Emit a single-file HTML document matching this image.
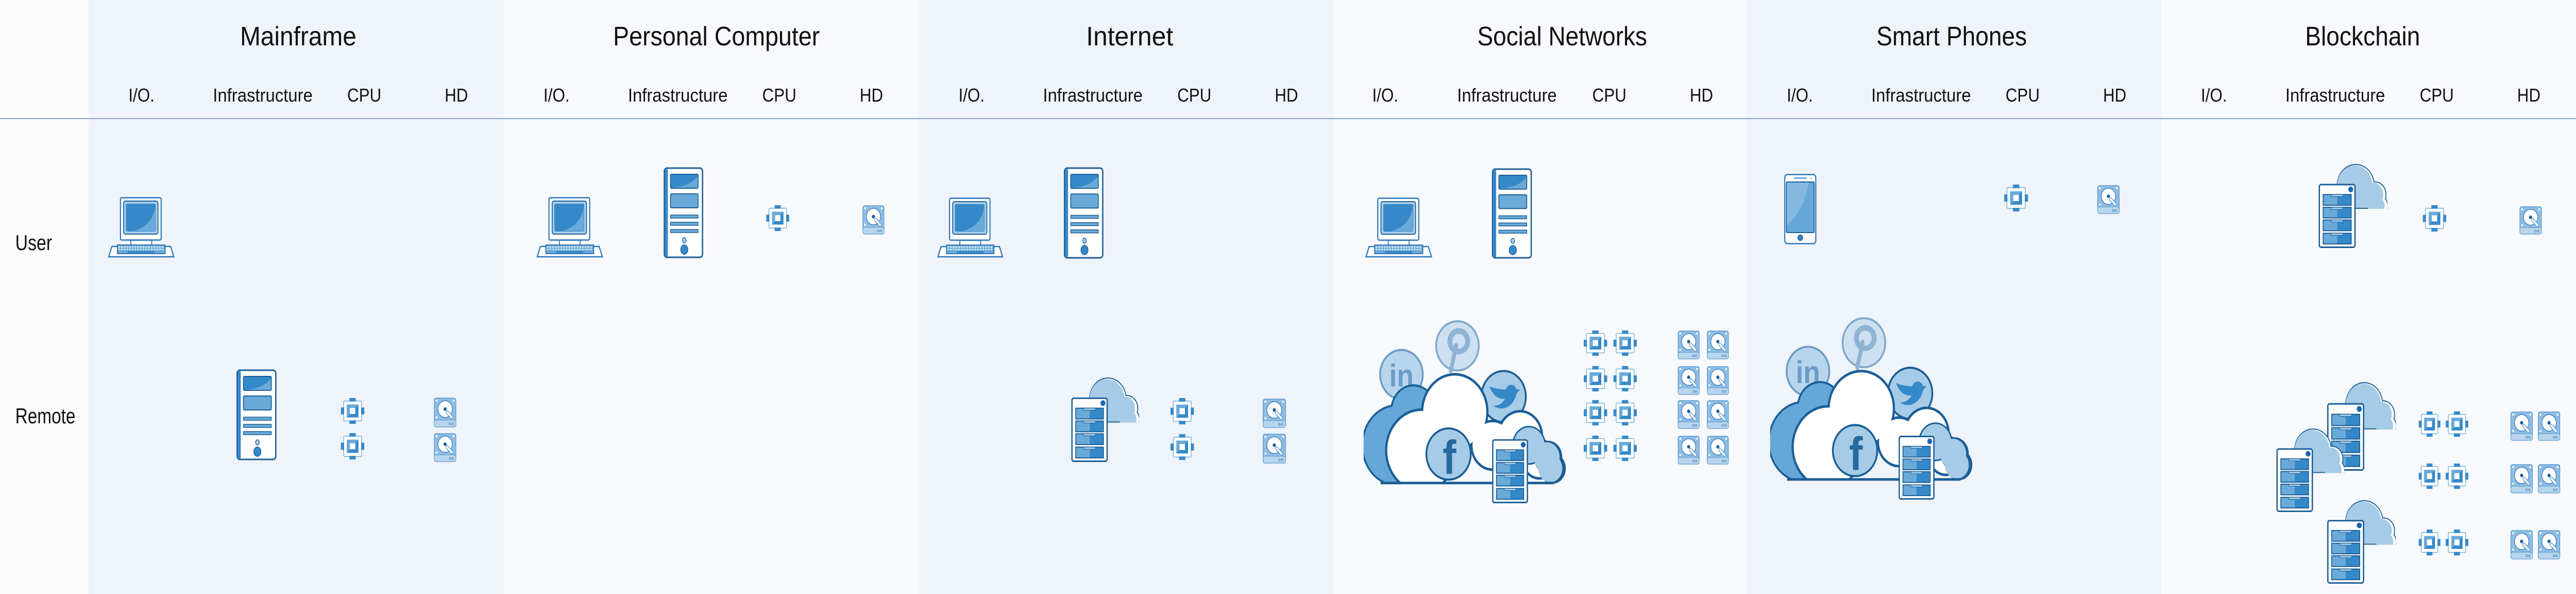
<!DOCTYPE html>
<html><head><meta charset="utf-8"><style>
html,body{margin:0;padding:0;background:#fcfcfd;width:100%;height:100%;overflow:hidden;}
svg{display:block;position:absolute;left:0;top:0;width:100vw;height:100vh;}
text{font-family:"Liberation Sans",sans-serif;fill:#111;}
</style></head><body>
<svg viewBox="0 0 5735 1152" preserveAspectRatio="none" xmlns="http://www.w3.org/2000/svg" xmlns:xlink="http://www.w3.org/1999/xlink" overflow="hidden">
<defs>
<symbol id="pc" viewBox="0 0 150 118" preserveAspectRatio="none">
<rect x="29" y="1.5" width="90" height="82" rx="3" fill="#fff" stroke="#2a76b8" stroke-width="2.5"/>
<rect x="36" y="8" width="76" height="64" rx="4" fill="#a8cde8" stroke="#1b5e96" stroke-width="2"/>
<rect x="41" y="13" width="66" height="54" rx="3" fill="#3589c9"/>
<path d="M106 18 Q100 56 58 66 L106 66Z" fill="#6aaad9"/>
<rect x="52" y="84" width="46" height="10" fill="#fff" stroke="#2a76b8" stroke-width="2"/>
<path d="M3 116 L10 96 L140 96 L147 116Z" fill="#fff" stroke="#2a76b8" stroke-width="2.5"/>
<rect x="22" y="93" width="106" height="17" fill="#6aaad9" stroke="#1b5e96" stroke-width="1.5"/>
<line x1="24" y1="97" x2="126" y2="97" stroke="#fff" stroke-width="2" stroke-dasharray="4 2"/>
<line x1="24" y1="101.5" x2="126" y2="101.5" stroke="#fff" stroke-width="2" stroke-dasharray="4 2"/>
<rect x="45" y="105" width="60" height="4" fill="#3589c9"/>
</symbol>
<symbol id="tower" viewBox="0 0 90 177" preserveAspectRatio="none">
<rect x="2" y="2" width="86" height="173" rx="6" fill="#fff" stroke="#1b5e96" stroke-width="3"/>
<rect x="3" y="3" width="7" height="171" rx="3" fill="#3589c9"/>
<rect x="16" y="14" width="62" height="27" rx="2" fill="#3589c9" stroke="#1b5e96" stroke-width="2"/>
<path d="M77 18 Q60 38 18 40 L77 40Z" fill="#6aaad9"/>
<rect x="16" y="52" width="62" height="27" rx="2" fill="#6aaad9" stroke="#1b5e96" stroke-width="2"/>
<rect x="16" y="93" width="62" height="6" fill="#6aaad9" stroke="#1b5e96" stroke-width="1.5"/>
<rect x="16" y="107" width="62" height="6" fill="#6aaad9" stroke="#1b5e96" stroke-width="1.5"/>
<rect x="16" y="121" width="62" height="6" fill="#6aaad9" stroke="#1b5e96" stroke-width="1.5"/>
<ellipse cx="47" cy="142" rx="4" ry="5" fill="#a8cde8" stroke="#1b5e96" stroke-width="1.5"/>
<ellipse cx="47" cy="160" rx="8" ry="9" fill="#3589c9" stroke="#1b5e96" stroke-width="1.5"/>
</symbol>
<symbol id="cpu" viewBox="0 0 56 56" preserveAspectRatio="none">
<rect x="8" y="8" width="40" height="40" rx="2" fill="#fff" stroke="#6aaad9" stroke-width="1.5"/>
<rect x="15" y="15" width="26" height="26" fill="#3589c9"/>
<path d="M15 15 L41 15 L15 41Z" fill="#6aaad9"/>
<rect x="22" y="22" width="12" height="12" fill="#fff"/>
<rect x="21" y="2" width="14" height="7" fill="#3589c9"/>
<rect x="21" y="47" width="14" height="7" fill="#3589c9"/>
<rect x="2" y="21" width="7" height="14" fill="#3589c9"/>
<rect x="47" y="21" width="7" height="14" fill="#3589c9"/>
</symbol>
<symbol id="hd" viewBox="0 0 50 57" preserveAspectRatio="none">
<rect x="1" y="1" width="48" height="55" rx="4" fill="#8fbde3" stroke="#5b9bd0" stroke-width="1.5"/>
<rect x="1" y="43" width="48" height="13" rx="4" fill="#b8d5ec" stroke="#5b9bd0" stroke-width="1"/>
<circle cx="25" cy="22" r="16" fill="#fff" stroke="#3a7fc0" stroke-width="1.5"/>
<circle cx="25" cy="22" r="3.5" fill="#1b5e96"/>
<path d="M30 28 L40 38" stroke="#5b9bd0" stroke-width="7" stroke-linecap="round"/>
<path d="M30 28 L40 38" stroke="#fff" stroke-width="4" stroke-linecap="round"/>
<circle cx="6" cy="6" r="2" fill="#fff"/><circle cx="44" cy="6" r="2" fill="#fff"/><circle cx="6" cy="38" r="2" fill="#fff"/>
<circle cx="36" cy="50" r="2" fill="none" stroke="#3a7fc0"/><circle cx="42" cy="50" r="2" fill="none" stroke="#3a7fc0"/>
</symbol>
<symbol id="srv" viewBox="0 0 82 126" preserveAspectRatio="none">
<rect x="1.5" y="1.5" width="79" height="123" rx="4" fill="#fff" stroke="#1b5e96" stroke-width="3"/>
<circle cx="71" cy="11" r="5.5" fill="#1565b0"/>
<g stroke="#1b5e96" stroke-width="2">
<rect x="10" y="21" width="31" height="21" fill="#6aaad9" stroke="none"/><rect x="41" y="21" width="31" height="21" fill="#3589c9" stroke="none"/><rect x="10" y="21" width="62" height="21" fill="none"/><rect x="28" y="21" width="26" height="4" fill="#a8cde8" stroke-width="1"/>
<rect x="10" y="46" width="31" height="21" fill="#6aaad9" stroke="none"/><rect x="41" y="46" width="31" height="21" fill="#3589c9" stroke="none"/><rect x="10" y="46" width="62" height="21" fill="none"/><rect x="28" y="46" width="26" height="4" fill="#a8cde8" stroke-width="1"/>
<rect x="10" y="71" width="31" height="21" fill="#6aaad9" stroke="none"/><rect x="41" y="71" width="31" height="21" fill="#3589c9" stroke="none"/><rect x="10" y="71" width="62" height="21" fill="none"/><rect x="28" y="71" width="26" height="4" fill="#a8cde8" stroke-width="1"/>
<rect x="10" y="97" width="31" height="21" fill="#6aaad9" stroke="none"/><rect x="41" y="97" width="31" height="21" fill="#3589c9" stroke="none"/><rect x="10" y="97" width="62" height="21" fill="none"/><rect x="28" y="97" width="26" height="4" fill="#a8cde8" stroke-width="1"/>
</g>
</symbol>
<clipPath id="cc1"><rect x="0" y="-5" width="160" height="93"/></clipPath>
<symbol id="csrv" viewBox="0 0 152 166" preserveAspectRatio="none">
<g clip-path="url(#cc1)">
<g fill="#1b5e96"><circle cx="82" cy="42" r="42"/><circle cx="124" cy="60" r="26"/><circle cx="132" cy="82" r="22"/><rect x="38" y="48" width="100" height="42"/></g>
<g fill="#fff"><circle cx="82" cy="42" r="40"/><circle cx="124" cy="60" r="24"/><circle cx="132" cy="82" r="20"/><rect x="40" y="48" width="96" height="38"/></g>
<g fill="#a6cbe6"><circle cx="80" cy="42" r="39"/><circle cx="120" cy="60" r="23"/><circle cx="127" cy="82" r="19"/><rect x="40" y="48" width="92" height="38"/></g>
</g>
<use href="#srv" x="0" y="39" width="82" height="126"/>
</symbol>
<clipPath id="cc2"><rect x="-10" y="0" width="480" height="320"/></clipPath>
<symbol id="social" viewBox="0 0 460 360" preserveAspectRatio="none">
<circle cx="211" cy="51" r="48" fill="#cde0f1" stroke="#7fa9cc" stroke-width="4"/>
<circle cx="214" cy="42" r="20" fill="none" stroke="#8fb3d3" stroke-width="11"/>
<path d="M208 50 L196 100" stroke="#8fb3d3" stroke-width="9" stroke-linecap="round"/>
<circle cx="85" cy="107" r="48" fill="#b8d5ec" stroke="#6a9cc8" stroke-width="4"/>
<text x="85" y="130" text-anchor="middle" font-size="62" font-weight="bold" style="fill:#6a9cc8">in</text>
<g clip-path="url(#cc2)">
<g fill="#1b5e96"><circle cx="75" cy="245" r="80"/><circle cx="112" cy="178" r="52"/></g>
<g fill="#65a8d8"><circle cx="75" cy="245" r="76"/><circle cx="112" cy="178" r="48"/></g>
</g>
<circle cx="315" cy="150" r="50" fill="#a6cbe6" stroke="#1b5e96" stroke-width="4"/>
<path d="M283 130 C292 150 305 156 318 154 C314 162 304 168 292 168 C312 180 338 170 344 144 L352 136 L344 136 C340 124 324 124 320 136 C306 136 294 134 283 130Z" fill="#3589c9"/>
<g clip-path="url(#cc2)">
<g fill="#1b5e96"><circle cx="130" cy="255" r="82"/><circle cx="205" cy="180" r="76"/><circle cx="290" cy="245" r="50"/><circle cx="352" cy="228" r="52"/><circle cx="395" cy="272" r="40"/></g>
<g fill="#fff"><circle cx="130" cy="255" r="77"/><circle cx="205" cy="180" r="71"/><circle cx="290" cy="245" r="45"/><circle cx="352" cy="228" r="47"/><circle cx="395" cy="272" r="35"/></g>
<g fill="#1b5e96"><circle cx="372" cy="245" r="38"/><circle cx="415" cy="268" r="32"/><circle cx="425" cy="290" r="30"/></g>
<g fill="#a6cbe6"><circle cx="372" cy="245" r="35"/><circle cx="412" cy="268" r="29"/><circle cx="420" cy="290" r="27"/></g>
</g>
<rect x="38" y="316" width="390" height="5" fill="#1b5e96"/>
<circle cx="191" cy="262" r="50" fill="#a6cbe6" stroke="#1b5e96" stroke-width="4"/>
<text x="193" y="300" text-anchor="middle" font-size="92" font-weight="bold" style="fill:#256a9e">f</text>
<use href="#srv" x="289" y="233" width="81" height="125"/>
</symbol>
<symbol id="phone" viewBox="0 0 72 137" preserveAspectRatio="none">
<rect x="1.5" y="1.5" width="69" height="134" rx="6" fill="#fff" stroke="#2a76b8" stroke-width="2.5"/>
<rect x="5" y="16" width="62" height="98" rx="2" fill="#65a8d8" stroke="#1b5e96" stroke-width="2"/>
<path d="M6 17 L55 17 Q45 70 6 100Z" fill="#85b8e0"/>
<rect x="22" y="7" width="28" height="3" fill="#6aaad9"/>
<circle cx="60" cy="8.5" r="1.5" fill="#6aaad9"/>
<circle cx="36" cy="124" r="5.5" fill="#3a7fc0" stroke="#1b5e96" stroke-width="1.5"/>
</symbol>
</defs>

<rect x="0" y="0" width="5735" height="1152" fill="#fcfcfd"/>
<rect x="197" y="0" width="924" height="1152" fill="#eff3fa"/>
<rect x="1121" y="0" width="924" height="1152" fill="#f7f9fd"/>
<rect x="2045" y="0" width="923" height="1152" fill="#eff3fa"/>
<rect x="2968" y="0" width="921" height="1152" fill="#f7f9fd"/>
<rect x="3889" y="0" width="922" height="1152" fill="#eff3fa"/>
<rect x="4811" y="0" width="924" height="1152" fill="#f7f9fd"/>
<rect x="0" y="229" width="5735" height="2" fill="#8aa4d6"/>

<g font-size="52" text-anchor="middle">
<text x="664" y="88" textLength="259" lengthAdjust="spacingAndGlyphs">Mainframe</text>
<text x="1595" y="88" textLength="460" lengthAdjust="spacingAndGlyphs">Personal Computer</text>
<text x="2515" y="88" textLength="194" lengthAdjust="spacingAndGlyphs">Internet</text>
<text x="3478" y="88" textLength="378" lengthAdjust="spacingAndGlyphs">Social Networks</text>
<text x="4345" y="88" textLength="335" lengthAdjust="spacingAndGlyphs">Smart Phones</text>
<text x="5260" y="88" textLength="256" lengthAdjust="spacingAndGlyphs">Blockchain</text>
</g>
<g font-size="36" text-anchor="middle">
<text x="315" y="197">I/O.</text><text x="585" y="197" textLength="222" lengthAdjust="spacingAndGlyphs">Infrastructure</text><text x="811" y="197">CPU</text><text x="1016" y="197">HD</text>
<text x="1239" y="197">I/O.</text><text x="1509" y="197" textLength="222" lengthAdjust="spacingAndGlyphs">Infrastructure</text><text x="1735" y="197">CPU</text><text x="1940" y="197">HD</text>
<text x="2163" y="197">I/O.</text><text x="2433" y="197" textLength="222" lengthAdjust="spacingAndGlyphs">Infrastructure</text><text x="2659" y="197">CPU</text><text x="2864" y="197">HD</text>
<text x="3084" y="197">I/O.</text><text x="3355" y="197" textLength="222" lengthAdjust="spacingAndGlyphs">Infrastructure</text><text x="3583" y="197">CPU</text><text x="3788" y="197">HD</text>
<text x="4007" y="197">I/O.</text><text x="4277" y="197" textLength="222" lengthAdjust="spacingAndGlyphs">Infrastructure</text><text x="4503" y="197">CPU</text><text x="4708" y="197">HD</text>
<text x="4929" y="197">I/O.</text><text x="5199" y="197" textLength="222" lengthAdjust="spacingAndGlyphs">Infrastructure</text><text x="5425" y="197">CPU</text><text x="5630" y="197">HD</text>
</g>
<text x="34" y="485" font-size="42" textLength="82" lengthAdjust="spacingAndGlyphs">User</text>
<text x="34" y="821" font-size="42" textLength="134" lengthAdjust="spacingAndGlyphs">Remote</text>

<use href="#pc" x="239" y="382" width="151" height="118"/>
<use href="#tower" x="526" y="716" width="90" height="177"/>
<use href="#cpu" x="757" y="770" width="56" height="54"/>
<use href="#cpu" x="757" y="838" width="56" height="55"/>
<use href="#hd" x="966" y="771" width="50" height="58"/>
<use href="#hd" x="966" y="840" width="50" height="56"/>

<use href="#pc" x="1193" y="382" width="151" height="118"/>
<use href="#tower" x="1477" y="324" width="89" height="177"/>
<use href="#cpu" x="1704" y="396" width="55" height="54"/>
<use href="#hd" x="1920" y="398" width="49" height="57"/>

<use href="#pc" x="2085" y="383" width="150" height="117"/>
<use href="#tower" x="2368" y="324" width="89" height="178"/>
<use href="#csrv" x="2385" y="732" width="151" height="165"/>
<use href="#cpu" x="2604" y="770" width="56" height="55"/>
<use href="#cpu" x="2604" y="840" width="56" height="54"/>
<use href="#hd" x="2811" y="773" width="52" height="57"/>
<use href="#hd" x="2811" y="841" width="52" height="58"/>

<use href="#pc" x="3038" y="383" width="152" height="117"/>
<use href="#tower" x="3321" y="326" width="90" height="176"/>
<use href="#social" x="3036" y="620" width="455" height="358"/>
<use href="#cpu" x="3524" y="639" width="56" height="53"/><use href="#cpu" x="3590" y="639" width="56" height="53"/>
<use href="#cpu" x="3524" y="708" width="56" height="53"/><use href="#cpu" x="3590" y="708" width="56" height="53"/>
<use href="#cpu" x="3524" y="774" width="56" height="53"/><use href="#cpu" x="3590" y="774" width="56" height="53"/>
<use href="#cpu" x="3524" y="843" width="56" height="53"/><use href="#cpu" x="3590" y="843" width="56" height="53"/>
<use href="#hd" x="3735" y="641" width="49" height="56"/><use href="#hd" x="3800" y="641" width="49" height="56"/>
<use href="#hd" x="3735" y="710" width="49" height="56"/><use href="#hd" x="3800" y="710" width="49" height="56"/>
<use href="#hd" x="3735" y="776" width="49" height="56"/><use href="#hd" x="3800" y="776" width="49" height="56"/>
<use href="#hd" x="3735" y="845" width="49" height="56"/><use href="#hd" x="3800" y="845" width="49" height="56"/>

<use href="#phone" x="3972" y="337" width="72" height="137"/>
<use href="#cpu" x="4460" y="356" width="57" height="56"/>
<use href="#hd" x="4669" y="359" width="50" height="56"/>
<use href="#social" x="3941" y="614" width="455" height="357"/>

<use href="#csrv" x="5162" y="318" width="153" height="164"/>
<use href="#cpu" x="5392" y="396" width="56" height="55"/>
<use href="#hd" x="5609" y="400" width="50" height="55"/>
<use href="#csrv" x="5181" y="741" width="153" height="173"/>
<use href="#csrv" x="5068" y="831" width="151" height="163"/>
<use href="#csrv" x="5181" y="970" width="153" height="163"/>
<use href="#cpu" x="5383" y="796" width="52" height="53"/><use href="#cpu" x="5443" y="796" width="54" height="53"/>
<use href="#cpu" x="5383" y="897" width="52" height="53"/><use href="#cpu" x="5443" y="897" width="54" height="53"/>
<use href="#cpu" x="5383" y="1025" width="52" height="54"/><use href="#cpu" x="5443" y="1025" width="54" height="54"/>
<use href="#hd" x="5589" y="798" width="50" height="57"/><use href="#hd" x="5650" y="798" width="50" height="57"/>
<use href="#hd" x="5589" y="900" width="50" height="57"/><use href="#hd" x="5650" y="900" width="50" height="57"/>
<use href="#hd" x="5589" y="1028" width="50" height="57"/><use href="#hd" x="5650" y="1028" width="50" height="57"/>
</svg>
</body></html>
